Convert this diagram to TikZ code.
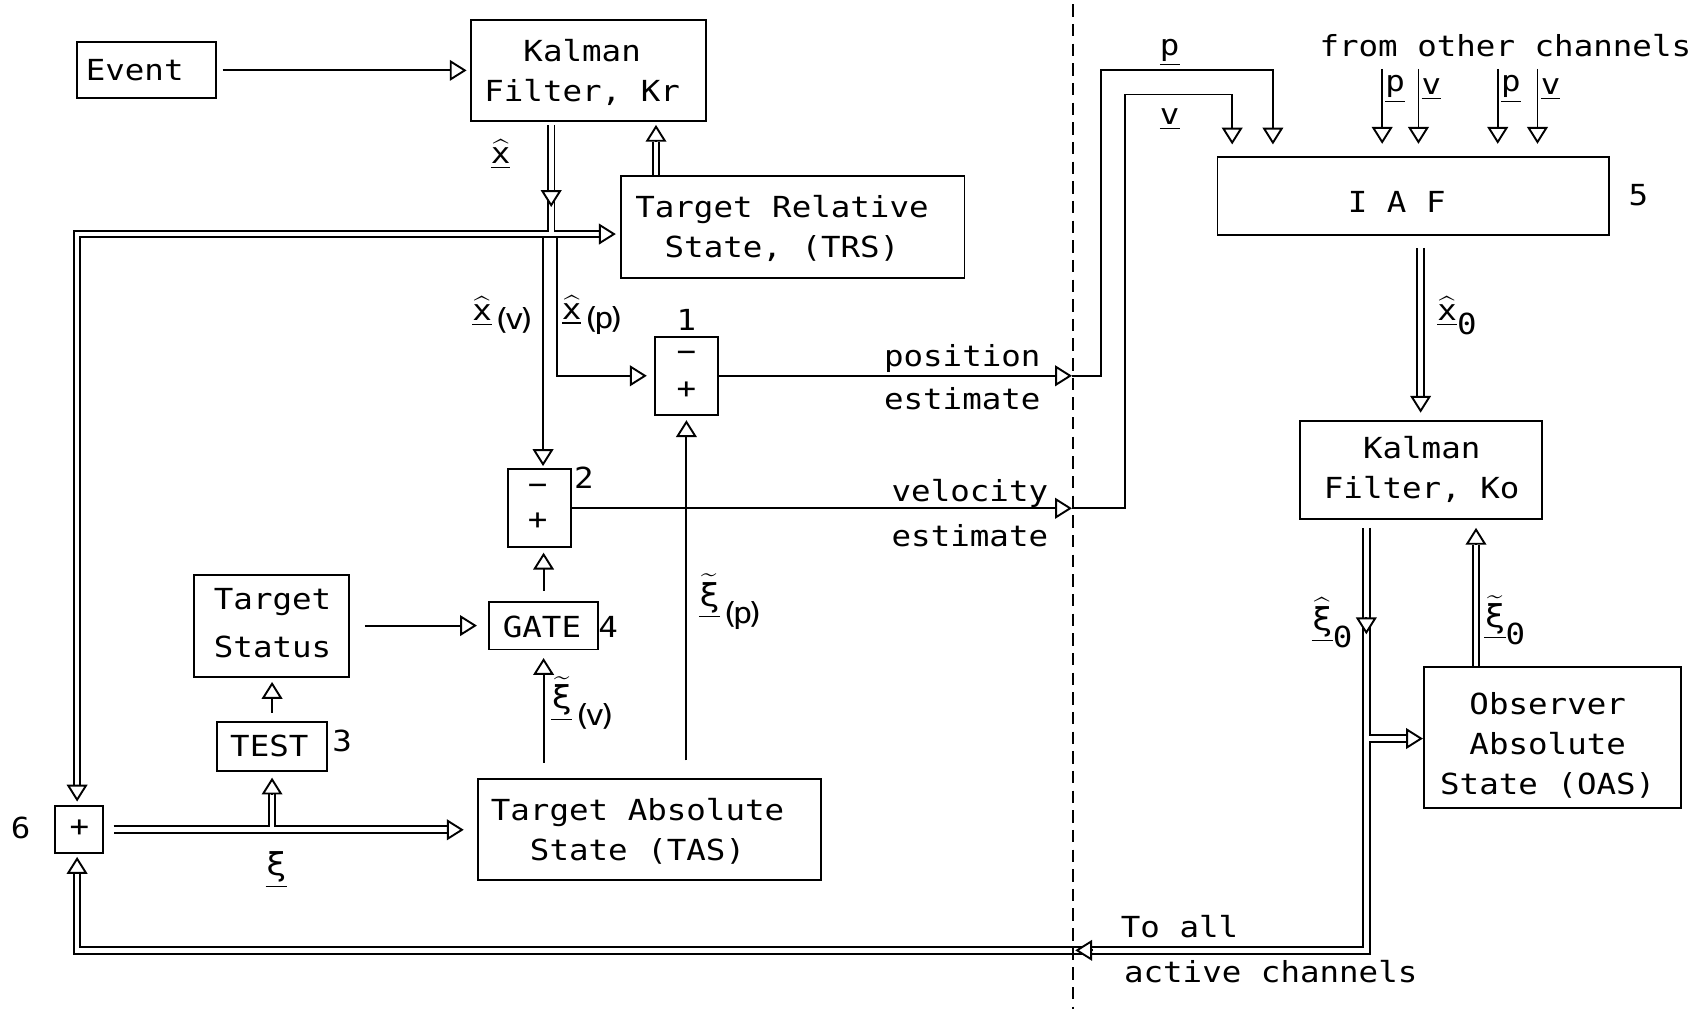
\RequirePackage{fix-cm}
\documentclass[tikz,border=0pt]{standalone}
\usepackage{fontspec}
\usepackage{amsmath}
\usetikzlibrary{arrows.meta,calc,fit}
\newfontfamily\plotfamily[FakeStretch=1.12]{DejaVu Sans Mono}
\newcommand\plotfont{\plotfamily\fontsize{15.2}{21}\selectfont}
\newcommand\xig{{\fontsize{16.5}{21}\selectfont ξ}}
\newcommand\hx{\underline{\widehat{\text{x}}}}
\newcommand\tx{\underline{\widetilde{\text{\xig}}}}
\newcommand\hxi{\underline{\widehat{\text{\xig}}}}
\newcommand\psub[1]{(\kern-3.6pt#1\kern-3.6pt)}
\begin{document}
\begin{tikzpicture}[x=0.02cm,y=-0.02cm,
  box/.style={draw, line width=1pt, inner sep=0pt},
  txt/.style={font=\plotfont, inner sep=0pt, align=center},
  arr/.style={line width=1pt, -{Triangle[open, fill=white, length=0.31cm, width=0.38cm]}},
  dbl/.style={line width=1pt, double, double distance=2.5pt},
  sep/.style={line width=1pt, dash pattern=on 6.5pt off 3.8pt},
]
\fill[white] (0,0) rectangle (1568,929);
\useasboundingbox (0,0) rectangle (1568,929);

% ---------- boxes ----------
\node[box, fit={(70.5,39) (199,90.6)}] (event) {};
\node[box, fit={(434,18) (650,111)}] (kr) {};
\node[box, fit={(572,162) (888,256)}] (trs) {};
\node[box, fit={(603,310) (661,382)}] (s1) {};
\node[box, fit={(468,432) (526,504)}] (s2) {};
\node[box, fit={(450,554) (551,598)}] (gate) {};
\node[box, fit={(178.6,529) (321.6,623)}] (tstat) {};
\node[box, fit={(200,665) (301,710)}] (test) {};
\node[box, fit={(51,742) (94.5,785)}] (s6) {};
\node[box, fit={(440,717) (756,810)}] (tas) {};
\node[box, fit={(1121,144.3) (1481.6,216.4)}] (iaf) {};
\node[box, fit={(1197,388) (1420,478)}] (ko) {};
\node[box, fit={(1311,614) (1548,744)}] (oas) {};

% ---------- box texts ----------
\node[txt] (event-t) at (124,65) {Event};
\node[txt] (kr-t) at (536,67) {Kalman\\Filter, Kr};
\node[txt] (trs-t) at (720,210) {Target Relative\\State, (TRS)};
\node[txt] (s1-m) at (632,328) {−};
\node[txt] (s1-p) at (632,359) {+};
\node[txt] (s2-m) at (495,451) {−};
\node[txt] (s2-p) at (495,480) {+};
\node[txt] (gate-t) at (499,577) {GATE};
\node[txt] (tstat-t) at (251,574) {Target\\[4pt]Status};
\node[txt] (test-t) at (248,687) {TEST};
\node[txt] (s6-t) at (73,763) {+};
\node[txt] (tas-t) at (587,765) {Target Absolute\\State (TAS)};
\node[txt] (iaf-t) at (1286,186) {I A F};
\node[txt] (ko-t) at (1309,432) {Kalman\\Filter, Ko};
\node[txt] (oas-t) at (1425,686) {Observer\\Absolute\\State (OAS)};

% ---------- numbers ----------
\node[txt] (n1) at (632,295) {1};
\node[txt] (n2) at (537.5,440) {2};
\node[txt] (n3) at (315,682) {3};
\node[txt] (n4) at (560,577) {4};
\node[txt] (n5) at (1508.6,180) {5};
\node[txt] (n6) at (19,762) {6};

% ---------- free texts ----------
\node[txt] (pos1) at (886,330) {position};
\node[txt] (pos2) at (886,367) {estimate};
\node[txt] (vel1) at (893,454) {velocity};
\node[txt] (vel2) at (893,493) {estimate};
\node[txt] (toall) at (1086,853) {To all};
\node[txt] (active) at (1170,895) {active channels};
\node[txt] (from) at (1386,42) {from other channels};

% ---------- math labels ----------
\node[txt] (lx) at (461,142) {$\hx$};
\node[txt] (lxv) at (464.5,290) {$\hx$\raisebox{-5pt}{\psub{v}}};
\node[txt] (lxp) at (547,290) {$\hx$\raisebox{-5pt}{\psub{p}}};
\node[txt] (lxip) at (674,554) {$\tx$\raisebox{-9pt}{\psub{p}}};
\node[txt] (lxiv) at (538,647.5) {$\tx$\raisebox{-9pt}{\psub{v}}};
\node[txt] (lxi) at (254.3,801) {$\underline{\text{\xig}}$};
\node[txt] (lx0) at (1341.5,291) {$\hx$\raisebox{-7.5pt}{0}};
\node[txt] (lxh0) at (1226.5,573.5) {$\hxi$\raisebox{-9pt}{0}};
\node[txt] (lxt0) at (1385.5,571) {$\tx$\raisebox{-9pt}{0}};
\node[txt] (lp) at (1077,48.5) {\underline{p}};
\node[txt] (lv) at (1077,110) {\underline{v}};

% ---------- Event -> Kr ----------
\draw[arr] ($(event.east)+(5,0)$) -- ($(kr.west |- event.east)+(-3.5,0)$);

% ---------- x-hat network ----------
\coordinate (hj) at (71,215.5);
\coordinate (kj) at (507.5,215.5);
\coordinate (ksrc) at (507.5,115);
\coordinate (km1) at (507.5,175);
\coordinate (km2) at (507.5,190.6);
\coordinate (tinb) at (551.5,215.5);
\coordinate (tin) at (567,215.5);
\coordinate (s6inb) at (71,722.5);
\coordinate (s6in) at (71,738);
\draw[dbl] (s6inb) -- (hj) -- (tinb) (ksrc) -- (kj);
\draw[arr] (s6inb) -- (s6in);
\draw[arr] (tinb) -- (tin);
\draw[arr] (km1) -- (km2);

% TRS -> Kr
\coordinate (tub) at (604,130.5);
\coordinate (tut) at (604,115);
\draw[dbl] (tub |- trs.north) -- (tub);
\draw[arr] (tub) -- (tut);

% x-hat(v), x-hat(p)
\coordinate (xv) at (500,219.5);
\coordinate (xp) at (513,219.5);
\draw[arr] (xv) -- ($(xv |- s2.north)+(0,-2)$);
\draw[arr] (xp) |- ($(s1.west)+(-6.6,0)$);

% ---------- position / velocity ----------
\coordinate (dp) at (987,346);
\coordinate (dv) at (987,468);
\draw[arr] (s1.east) -- (dp);
\draw[arr] (s2.east) -- (dv);
\coordinate (pc) at (1014,64.5);
\coordinate (pt) at (1172,133);
\draw[arr] (dp) -| (pc) -| (pt);
\coordinate (vc) at (1036,87);
\coordinate (vt) at (1134.5,133);
\draw[arr] (dv) -| (vc) -| (vt);

% ---------- from other channels ----------
\foreach \x/\l [count=\i] in {1272.6/p,1306/v,1379/p,1415.6/v} {
  \coordinate (oc\i) at (\x,63.5);
  \draw[arr] (oc\i) -- ($(oc\i |- iaf.north)+(0,-11)$);
  \node[txt] (ocl\i) at (\x+12,82) {\underline{\l}};
}

% ---------- IAF -> Ko ----------
\coordinate (xob) at (1308,364.5);
\coordinate (xot) at (1308,380);
\draw[dbl] ($(xob |- iaf.south)+(0,11)$) -- (xob);
\draw[arr] (xob) -- (xot);

% ---------- Ko -> xi0 -> bottom loop ----------
\coordinate (kb) at (1258,486);
\coordinate (kc) at (1258,875);
\coordinate (bc) at (71,875);
\coordinate (s6b) at (71,804.5);
\coordinate (s6bt) at (71,789);
\coordinate (br) at (1258,680);
\coordinate (brb) at (1295.5,680);
\coordinate (ma1) at (1258,568.5);
\coordinate (ma2) at (1258,584);
\coordinate (mb1) at (1005.5,875);
\coordinate (mb2) at (990,875);
\draw[dbl] (kb) -- (kc) -- (bc) -- (s6b) (br) -- (brb);
\draw[arr] (s6b) -- (s6bt);
\draw[arr] (brb) -- (brb -| oas.west);
\draw[arr] (ma1) -- (ma2);
\draw[arr] (mb1) -- (mb2);

% OAS -> Ko
\coordinate (oub) at (1359,501.5);
\coordinate (out) at (1359,486);
\draw[dbl] (oub |- oas.north) -- (oub);
\draw[arr] (oub) -- (out);

% ---------- xi network ----------
\coordinate (xs) at (104.7,764);
\coordinate (xtb) at (411.5,764);
\coordinate (xtt) at (427,764);
\coordinate (xj) at (250.5,764);
\coordinate (xub) at (250.5,731.5);
\coordinate (xut) at (250.5,716);
\draw[dbl] (xs) -- (xtb) (xj) -- (xub);
\draw[arr] (xtb) -- (xtt);
\draw[arr] (xub) -- (xut);

% TEST -> Target Status
\draw[arr] ($(test.north)+(0,-8)$) -- ($(test.north |- tstat.south)+(0,4)$);
% Target Status -> GATE
\draw[arr] ($(tstat.east)+(13.5,0)$) -- ($(gate.west)+(-10,0)$);
% GATE -> 2
\draw[arr] ($(gate.north)+(0,-9)$) -- ($(gate.north |- s2.south)+(0,4)$);
% TAS -> GATE
\draw[arr] ($(gate.south |- tas.north)+(0,-14)$) -- ($(gate.south)+(0,7)$);
% TAS -> 1
\draw[arr] ($(s1.south |- tas.north)+(0,-16)$) -- ($(s1.south)+(0,4)$);

% ---------- dashed separator ----------
\coordinate (dtop) at (988,4);
\coordinate (dbot) at (988,929);
\draw[sep] (dtop) -- (dbot);
\end{tikzpicture}
\end{document}
